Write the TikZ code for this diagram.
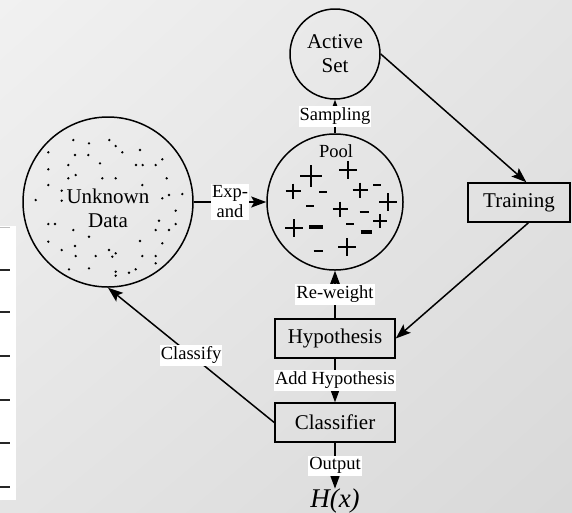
\documentclass[tikz,border=0pt]{standalone}
\usepackage{fontspec}
\setmainfont{Liberation Serif}
\usetikzlibrary{arrows.meta,shadings}
\newcommand{\nodefont}{\fontsize{21}{24}\selectfont}
\newcommand{\tagfont}{\fontsize{18.5}{20}\selectfont}
\tikzset{
  bubble/.style={draw, circle, line width=1.5pt, inner sep=0pt, align=center, font=\nodefont},
  box/.style={draw, rectangle, line width=1.5pt, minimum height=39pt, font=\nodefont},
  tag/.style={fill=white, inner xsep=1pt, inner ysep=2pt, align=center, font=\tagfont},
  link/.style={line width=1.5pt, -{Stealth[length=15pt,width=11pt,inset=3pt]}},
}
\newcommand{\plusmark}[4]{%
  \draw[line width=#4pt] (#1-#3,#2) -- (#1+#3,#2) (#1,#2-#3) -- (#1,#2+#3);
}
\newcommand{\minusmark}[4]{%
  \draw[line width=#4pt] (#1-#3,#2) -- (#1+#3,#2);
}

\begin{document}
\begin{tikzpicture}[x=1pt,y=-1pt]
  \useasboundingbox (0,0) rectangle (572,512);
  \shade[upper left=gray!11, upper right=gray!21, lower left=gray!21, lower right=gray!30] (0,0) rectangle (572,512);
  % strip of the slide behind
  \fill[white] (0,226) rectangle (16,500);
  \draw[gray!50, line width=1pt] (0,227) -- (10,227);
  \foreach \y in {270,312,356,400,443,487} \draw[black!85, line width=1.6pt] (0,\y) -- (10,\y);

  \node[bubble, minimum size=170pt, text height=52pt] (ud) at (108,202) {Unknown\\Data};
  \node[bubble, minimum size=136pt] (pool) at (335,202) {};
  \node[font=\tagfont, inner sep=0pt] (pooltxt) at (336,151) {Pool};
  \node[bubble, minimum size=90pt] (act) at (335,54) {Active\\Set};
  \node[box, minimum width=102pt] (trn) at (519,202.5) {Training};
  \node[box, minimum width=120pt] (hyp) at (335,338.5) {Hypothesis};
  \node[box, minimum width=120pt] (cls) at (335,422.5) {Classifier};
  \node[font=\fontsize{27}{30}\selectfont\itshape, inner sep=0pt] (hx) at (335,501) {H(x)};

  % unlabeled samples
  \foreach \x/\y in {73.3/140, 89/143.3, 109.3/140, 115.7/146, 122.3/152.3, 140/150,
      48.3/152.3, 75/155, 88.3/155, 100/163.3, 68.3/165, 136/165, 142.7/165,
      155.7/165, 162.3/159.3, 48.3/169.3, 68.3/178.3, 75.7/175, 102.3/178.3,
      115.7/178.3, 166.7/178.3, 48.3/185, 142.3/185, 61.7/190.7, 61.7/200.7,
      35.7/200, 162.3/198.3, 169/195, 182.3/194, 175.7/210.7, 159/220.7,
      155.7/230, 169/230, 175.7/224, 48.3/224, 55/224, 73.3/230, 89/236.7,
      48.3/241.7, 75/246, 61.7/250, 140/241, 162.3/243.3, 75.7/256, 95.7/256,
      109/250, 115.7/253.3, 112.3/256.7, 142.3/256, 155.7/256, 155.7/263.3,
      69/269.3, 89/268.3, 115.7/271.7, 115.7/275.7, 129/272.7, 135.7/269.3}
    \fill (\x,\y) circle (1.3pt);

  % labeled samples in the pool
  \plusmark{311}{176}{11}{2}
  \plusmark{348}{170}{9}{1.2}
  \plusmark{293}{191}{7.5}{1.1}
  \plusmark{360}{190}{7.5}{1.1}
  \plusmark{388}{202}{9}{1.2}
  \plusmark{340}{209}{7.5}{1.1}
  \plusmark{380}{221}{7}{1.1}
  \plusmark{294}{228}{9}{1.2}
  \plusmark{347}{247}{9}{1.2}
  \minusmark{323}{192}{4}{2}
  \minusmark{377}{185}{4}{2}
  \minusmark{310}{206}{4}{2}
  \minusmark{364}{212}{4.5}{2.2}
  \minusmark{350}{224}{4}{2}
  \minusmark{318}{251}{4.5}{2}
  \minusmark{316}{227}{7}{4}
  \minusmark{366}{232}{5.5}{3.5}

  \draw[link] (ud) -- node[tag] (lexp) {Exp-\\and} (pool);
  \draw[link] (pool) -- node[tag] (lsam) {Sampling} (act);
  \draw[link] (act.east) -- (trn.70);
  \draw[link] (trn.-65) -- (hyp.east);
  \draw[link] (hyp) -- node[tag] (lrew) {Re-weight} (pool);
  \draw[link] (hyp) -- node[tag] (ladd) {Add Hypothesis} (cls);
  \draw[link] (cls) -- node[tag] (lout) {Output} (hx);
  \draw[link] (cls.west) -- node[tag] (lcla) {Classify} (ud.south);
\end{tikzpicture}
\end{document}
